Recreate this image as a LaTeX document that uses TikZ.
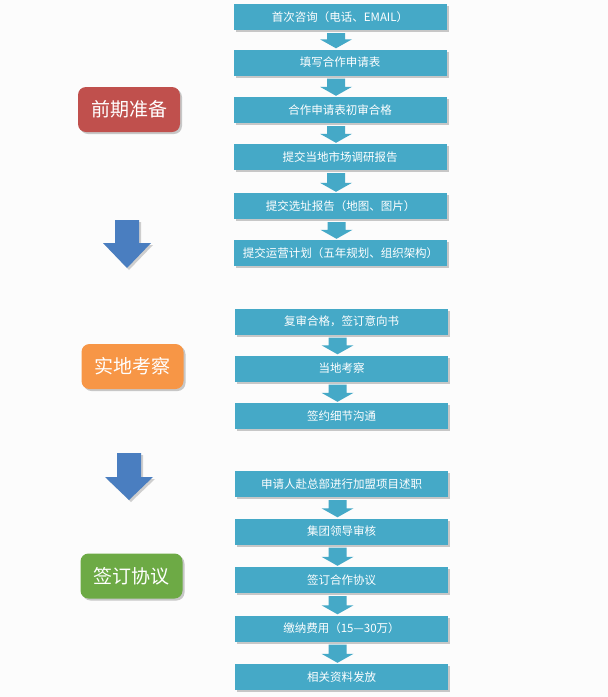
\documentclass[tikz,border=0pt]{standalone}
\usepackage{fontspec}
\newfontfamily\cjk{Noto Sans CJK SC}
\usetikzlibrary{calc,shadows}
\definecolor{boxc}{HTML}{45A9C7}
\definecolor{redc}{HTML}{C0504D}
\definecolor{orangec}{HTML}{F79646}
\definecolor{greenc}{HTML}{6DAA45}
\definecolor{bluec}{HTML}{4A7EC0}
\definecolor{bgc}{HTML}{FCFCFC}
\tikzset{
  stepbox/.style={fill=boxc, text=white, minimum width=213pt, minimum height=26pt,
    inner sep=0pt, font=\cjk\fontsize{11.5}{13}\selectfont,
    drop shadow={shadow xshift=2pt, shadow yshift=-2pt, opacity=0.35, fill=black!60}},
  phase/.style={text=white, rounded corners=8pt, minimum width=102pt, minimum height=45pt,
    inner sep=0pt, font=\cjk\fontsize{19}{22}\selectfont,
    drop shadow={shadow xshift=2pt, shadow yshift=-2pt, opacity=0.35, fill=black!60}},
}
\newcommand{\flowarrow}[2]{%
  \path let \p1=($(#1.south)+(-4pt,-3pt)$), \p2=($(#2.north)+(-4pt,1pt)$) in
    [fill=boxc] (\x1-9pt,\y1) -- (\x1+9pt,\y1) -- (\x1+9pt,\y2+9pt) -- (\x1+16pt,\y2+9pt)
    -- (\x1,\y2) -- (\x1-16pt,\y2+9pt) -- (\x1-9pt,\y2+9pt) -- cycle;}
\begin{document}
\begin{tikzpicture}[x=1pt,y=-1pt]
\useasboundingbox[fill=bgc] (0,0) rectangle (608,697);
% group 1
\node[stepbox] (b1) at (340,17) {首次咨询（电话、EMAIL）};
\node[stepbox] (b2) at (340,62.5) {填写合作申请表};
\node[stepbox] (b3) at (340,110) {合作申请表初审合格};
\node[stepbox] (b4) at (340,157) {提交当地市场调研报告};
\node[stepbox] (b5) at (340.5,206) {提交选址报告（地图、图片）};
\node[stepbox] (b6) at (340.5,253) {提交运营计划（五年规划、组织架构）};
% group 2
\node[stepbox] (b7) at (341.5,321.5) {复审合格，签订意向书};
\node[stepbox] (b8) at (341.5,368.5) {当地考察};
\node[stepbox] (b9) at (341.5,416) {签约细节沟通};
% group 3
\node[stepbox] (b10) at (341.5,484) {申请人赴总部进行加盟项目述职};
\node[stepbox] (b11) at (341.5,531.5) {集团领导审核};
\node[stepbox] (b12) at (341.5,580) {签订合作协议};
\node[stepbox] (b13) at (341.5,628.5) {缴纳费用（15—30万）};
\node[stepbox] (b14) at (341.5,677) {相关资料发放};
\flowarrow{b1}{b2}
\flowarrow{b2}{b3}
\flowarrow{b3}{b4}
\flowarrow{b4}{b5}
\flowarrow{b5}{b6}
\flowarrow{b7}{b8}
\flowarrow{b8}{b9}
\flowarrow{b10}{b11}
\flowarrow{b11}{b12}
\flowarrow{b12}{b13}
\flowarrow{b13}{b14}
% phase labels
\node[phase, fill=redc] (p1) at (129,109.5) {前期准备};
\node[phase, fill=orangec] (p2) at (132.5,366.5) {实地考察};
\node[phase, fill=greenc] (p3) at (131.5,576) {签订协议};
% big arrows
\fill[bluec, drop shadow={shadow xshift=2pt, shadow yshift=-2pt, opacity=0.3, fill=black!60}]
  (115,220) -- (139,220) -- (139,243) -- (151,243) -- (127,268) -- (103,243) -- (115,243) -- cycle;
\fill[bluec, drop shadow={shadow xshift=2pt, shadow yshift=-2pt, opacity=0.3, fill=black!60}]
  (117,453) -- (141,453) -- (141,477) -- (153,477) -- (129,500) -- (105,477) -- (117,477) -- cycle;
\end{tikzpicture}
\end{document}
